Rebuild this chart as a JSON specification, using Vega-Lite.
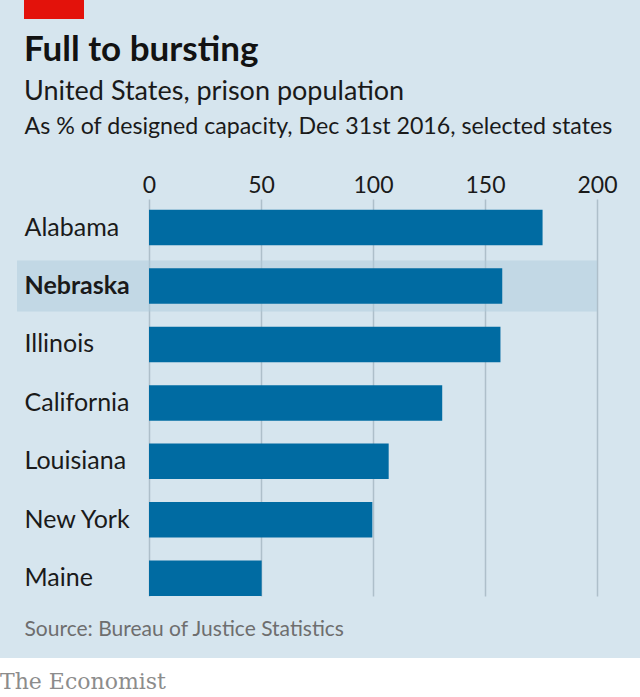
{
  "$schema": "https://vega.github.io/schema/vega-lite/v6.json",
  "padding": 0,
  "autosize": {"type": "pad"},
  "background": "#d6e5ee",
  "spacing": 13,
  "config": {
    "font": "Lato",
    "view": {"stroke": null}
  },
  "vconcat": [
    {
      "spacing": 0,
      "hconcat": [
        {
          "width": 24,
          "height": 19,
          "data": {"values": [{"k": "a"}]},
          "mark": {"type": "text", "text": ""}
        },
        {
          "width": 60,
          "height": 19,
          "view": {"fill": "#e3120b", "stroke": null},
          "data": {"values": [{"k": "a"}]},
          "mark": {"type": "text", "text": ""}
        }
      ]
    },
    {
      "width": 597,
      "height": 397,
      "title": {
        "text": "Full to bursting",
        "subtitle": "United States, prison population",
        "anchor": "start",
        "frame": "group",
        "dx": 24,
        "font": "Lato",
        "fontSize": 35,
        "fontWeight": "bold",
        "color": "#121212",
        "subtitleFont": "Lato",
        "subtitleFontSize": 27,
        "subtitleColor": "#1a1a1a",
        "subtitlePadding": 11,
        "offset": 10
      },
      "data": {"values": [
        {"state": "Alabama", "pct": 175.7},
        {"state": "Nebraska", "pct": 157.7},
        {"state": "Illinois", "pct": 156.9},
        {"state": "California", "pct": 130.9},
        {"state": "Louisiana", "pct": 107.0},
        {"state": "New York", "pct": 99.7},
        {"state": "Maine", "pct": 50.3}
      ]},
      "encoding": {
        "y": {
          "field": "state", "type": "nominal", "sort": null,
          "scale": {
            "domain": ["Alabama", "Nebraska", "Illinois", "California", "Louisiana", "New York", "Maine"],
            "paddingInner": 0.393, "paddingOuter": 0.0925, "align": 1
          },
          "axis": {
            "orient": "left",
            "zindex": 1,
            "domain": false,
            "ticks": false,
            "tickSize": 0,
            "labelAlign": "left",
            "labelPadding": -24,
            "labelFont": "Lato",
            "labelFontSize": 25,
            "labelColor": "#1a1a1a",
            "labelFontWeight": {"expr": "datum.value === 'Nebraska' ? 'bold' : 'normal'"},
            "title": ["Source: Bureau of Justice Statistics", " "],
            "titleLineHeight": 6,
            "titleAngle": 0,
            "titleX": 24,
            "titleY": 436,
            "titleAlign": "left",
            "titleBaseline": "alphabetic",
            "titleFont": "Lato",
            "titleFontSize": 21,
            "titleFontWeight": "normal",
            "titleColor": "#6e6e6e"
          }
        }
      },
      "layer": [
        {
          "transform": [{"filter": "datum.state === 'Nebraska'"}],
          "mark": {"type": "bar", "color": "#aecbdc", "opacity": 0.5, "height": {"band": 1.437}},
          "encoding": {
            "x": {"datum": -58.9, "type": "quantitative", "scale": {"domain": [0, 200], "range": [149, 597], "nice": false}},
            "x2": {"datum": 200}
          }
        },
        {
          "mark": {"type": "bar", "color": "#006ba2"},
          "encoding": {
            "x": {
              "field": "pct", "type": "quantitative",
              "scale": {"domain": [0, 200], "range": [149, 597], "nice": false},
              "axis": {
                "orient": "top",
                "values": [0, 50, 100, 150, 200],
                "domain": false,
                "ticks": false,
                "tickSize": 0,
                "grid": true,
                "gridColor": "#aebfca",
                "gridWidth": 1.5,
                "labelFlush": false,
                "labelFont": "Lato",
                "labelFontSize": 23,
                "labelColor": "#1a1a1a",
                "labelBaseline": "alphabetic",
                "labelPadding": 7,
                "title": "As % of designed capacity, Dec 31st 2016, selected states",
                "titleX": 24,
                "titleY": -65.5,
                "titleAlign": "left",
                "titleAnchor": "start",
                "titleBaseline": "alphabetic",
                "titleFont": "Lato",
                "titleFontSize": 23.2,
                "titleFontWeight": "normal",
                "titleColor": "#1a1a1a"
              }
            }
          }
        },
        {
          "mark": {"type": "rule", "color": "#2a2a2a", "strokeWidth": 1.5},
          "encoding": {"x": {"datum": 0, "type": "quantitative"}}
        }
      ]
    },
    {
      "width": 640,
      "height": 38,
      "view": {"fill": "#ffffff", "stroke": null},
      "title": {
        "text": "The Economist",
        "orient": "bottom",
        "anchor": "start",
        "frame": "group",
        "offset": -24,
        "font": "DejaVu Serif",
        "fontSize": 22,
        "fontWeight": "normal",
        "color": "#8c8c8c"
      },
      "data": {"values": [{"k": "a"}]},
      "mark": {"type": "text", "text": ""}
    }
  ]
}
